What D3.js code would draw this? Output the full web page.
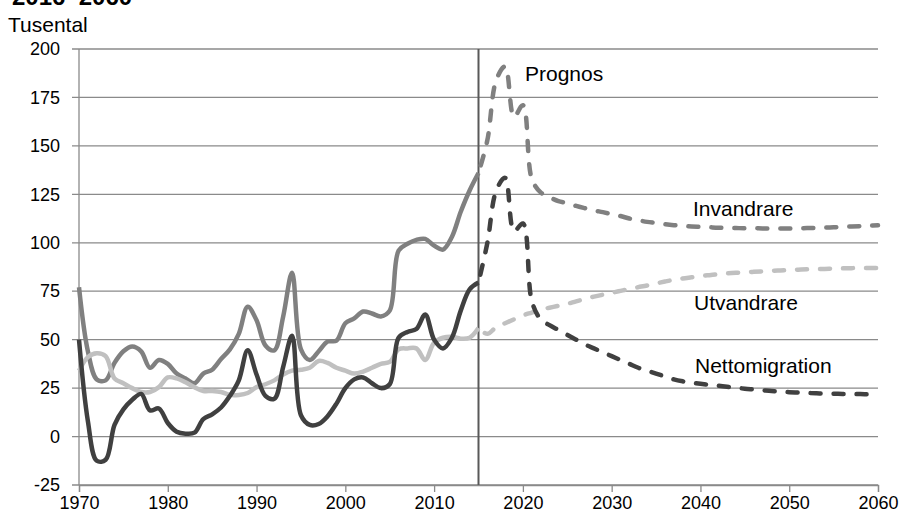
<!DOCTYPE html>
<html><head><meta charset="utf-8">
<script src="https://cdn.jsdelivr.net/npm/d3@7"></script>
<style>body{margin:0;background:#fff;} svg{display:block;font-family:Arial,"Liberation Sans",sans-serif;}</style>
</head><body><svg id="c" width="902" height="519"></svg>
<script>
const histYears = d3.range(1970, 2016);
const progYears = d3.range(2015, 2061);
const yTicks = [-25, 0, 25, 50, 75, 100, 125, 150, 175, 200];
const xTicks = [1970, 1980, 1990, 2000, 2010, 2020, 2030, 2040, 2050, 2060];

const invHist = [77,44,29.5,29,38,44,46.5,44,35.5,39.5,37.5,32.5,30,27.5,32.5,34.5,40,45,53,67,60,47,44.5,62,84.5,45,39.5,44,49,49.5,58.5,61,64.5,63.5,62,65,96,99.5,101.5,102,98.5,96.5,103,116,127,136];
const utvHist = [34,41,43,41.5,30,27.5,25,23,23,25.5,30.5,30,28,25.5,23.5,23.5,23,21.5,21.5,22.5,25.5,27,29,32,34,34.5,35.5,39,38,35.5,34,32.5,33.5,35.5,37.5,38.5,45,45.5,45.5,39.5,48.5,51,51.5,50.5,51,56];
const netHist = [50,8,-12.5,-12,6,14,19,22,13.5,14.5,7,2.5,1.5,2,9,11.5,15,21,29,44.5,32,21,19.5,36,52,11,6,6.5,10.5,17,25,29.5,30.5,27.5,25,27,51,54,55.5,63,50,45.5,51,65,76,79.5];

const invProg = [136,153,184,191,165,171,133,126,123.5,121.5,120.5,119,117.8,116.7,115.8,114.8,113.8,112.5,111.6,110.8,110.2,109.6,109.1,108.7,108.4,108.2,108,107.8,107.7,107.6,107.5,107.5,107.4,107.4,107.4,107.4,107.5,107.6,107.7,107.8,108,108.2,108.4,108.6,108.8,109];
const utvProg = [56,53,56.5,58.5,60.5,62.5,64,65.5,66.5,67.5,68.5,69.8,71,72.2,73.2,74.2,75.2,76.2,77.1,78,79,80,80.9,81.6,82.2,82.8,83.3,83.8,84.2,84.5,84.8,85,85.2,85.5,85.7,85.9,86.1,86.3,86.4,86.5,86.7,86.8,86.9,87,87,87];
const netProg = [79.5,100,127,133.5,106,110,70,60.5,57.5,55,52.5,50,47.5,45.5,43.5,41.5,39.5,37.5,35.5,34,32.5,31,29.5,28.5,27.8,27.2,26.7,26.2,25.7,25.2,24.7,24.3,23.9,23.5,23.2,22.9,22.7,22.5,22.3,22.2,22.1,22,21.9,21.9,21.8,21.8];

const seriesNames = ["Invandrare", "Utvandrare", "Nettomigration"];
const svg = d3.select("#c");
const x = d3.scaleLinear().domain([1970, 2060]).range([79, 878]);
const y = d3.scaleLinear().domain([-25, 200]).range([485, 49]);
const FONT = "Arial, 'Liberation Sans', sans-serif";

// title (cut off at top, as in the reference)
svg.append("text").attr("x", 12).attr("y", 5).attr("font-size", 24).attr("font-weight", "bold").attr("fill", "#000").text("2016–2060");
svg.append("text").attr("x", 8).attr("y", 32).attr("font-size", 21).attr("fill", "#000").text("Tusental");

// gridlines
svg.append("g").selectAll("line").data(yTicks).join("line")
  .attr("x1", 72).attr("x2", 878).attr("y1", d => y(d)).attr("y2", d => y(d))
  .attr("stroke", "#8a8a8a").attr("stroke-width", 1.3);

// y axis
const yAxis = svg.append("g").attr("transform", "translate(79,0)")
  .call(d3.axisLeft(y).tickValues(yTicks).tickFormat(d => String(d)).tickSize(0).tickPadding(19));
yAxis.select(".domain").remove();
yAxis.selectAll("text").attr("font-size", 18).attr("fill", "#000").attr("font-family", FONT);
svg.append("line").attr("x1", 79).attr("x2", 79).attr("y1", 49).attr("y2", 485).attr("stroke", "#8a8a8a").attr("stroke-width", 1.3);

// x axis
const xAxis = svg.append("g").attr("transform", "translate(0,485)")
  .call(d3.axisBottom(x).tickValues(xTicks).tickFormat(d => String(d)).tickSize(7).tickPadding(4));
xAxis.select(".domain").attr("stroke", "#8a8a8a").attr("stroke-width", 1.3);
xAxis.selectAll(".tick line").attr("stroke", "#8a8a8a").attr("stroke-width", 1.3);
xAxis.selectAll("text").attr("font-size", 18).attr("fill", "#000").attr("font-family", FONT);

// 2015 divider
svg.append("line").attr("x1", x(2015)).attr("x2", x(2015)).attr("y1", 49).attr("y2", 485)
  .attr("stroke", "#595959").attr("stroke-width", 2);

const line = d3.line().x(d => x(d[0])).y(d => y(d[1])).curve(d3.curveCatmullRom.alpha(0.5));
const colors = ["#808080", "#c0c0c0", "#404040"];
const hist = [invHist, utvHist, netHist];
const prog = [invProg, utvProg, netProg];

[0, 1, 2].forEach(i => {
  svg.append("path").datum(histYears.map((yr, k) => [yr, hist[i][k]]))
    .attr("d", line).attr("fill", "none").attr("stroke", colors[i])
    .attr("stroke-width", 4.5).attr("stroke-linejoin", "round");
});
[0, 1, 2].forEach(i => {
  svg.append("path").datum(progYears.map((yr, k) => [yr, prog[i][k]]))
    .attr("d", line).attr("fill", "none").attr("stroke", colors[i])
    .attr("stroke-width", 4.5).attr("stroke-dasharray", "10,13").attr("stroke-linecap", "round")
    .attr("stroke-dashoffset", -8);
});

// labels
const labels = [
  {t: "Prognos", x: 525, y: 81},
  {t: seriesNames[0], x: 693, y: 216},
  {t: seriesNames[1], x: 694, y: 310},
  {t: seriesNames[2], x: 695, y: 373}
];
svg.append("g").selectAll("text").data(labels).join("text")
  .attr("x", d => d.x).attr("y", d => d.y).attr("font-size", 21).attr("fill", "#000").text(d => d.t);
</script></body></html>
